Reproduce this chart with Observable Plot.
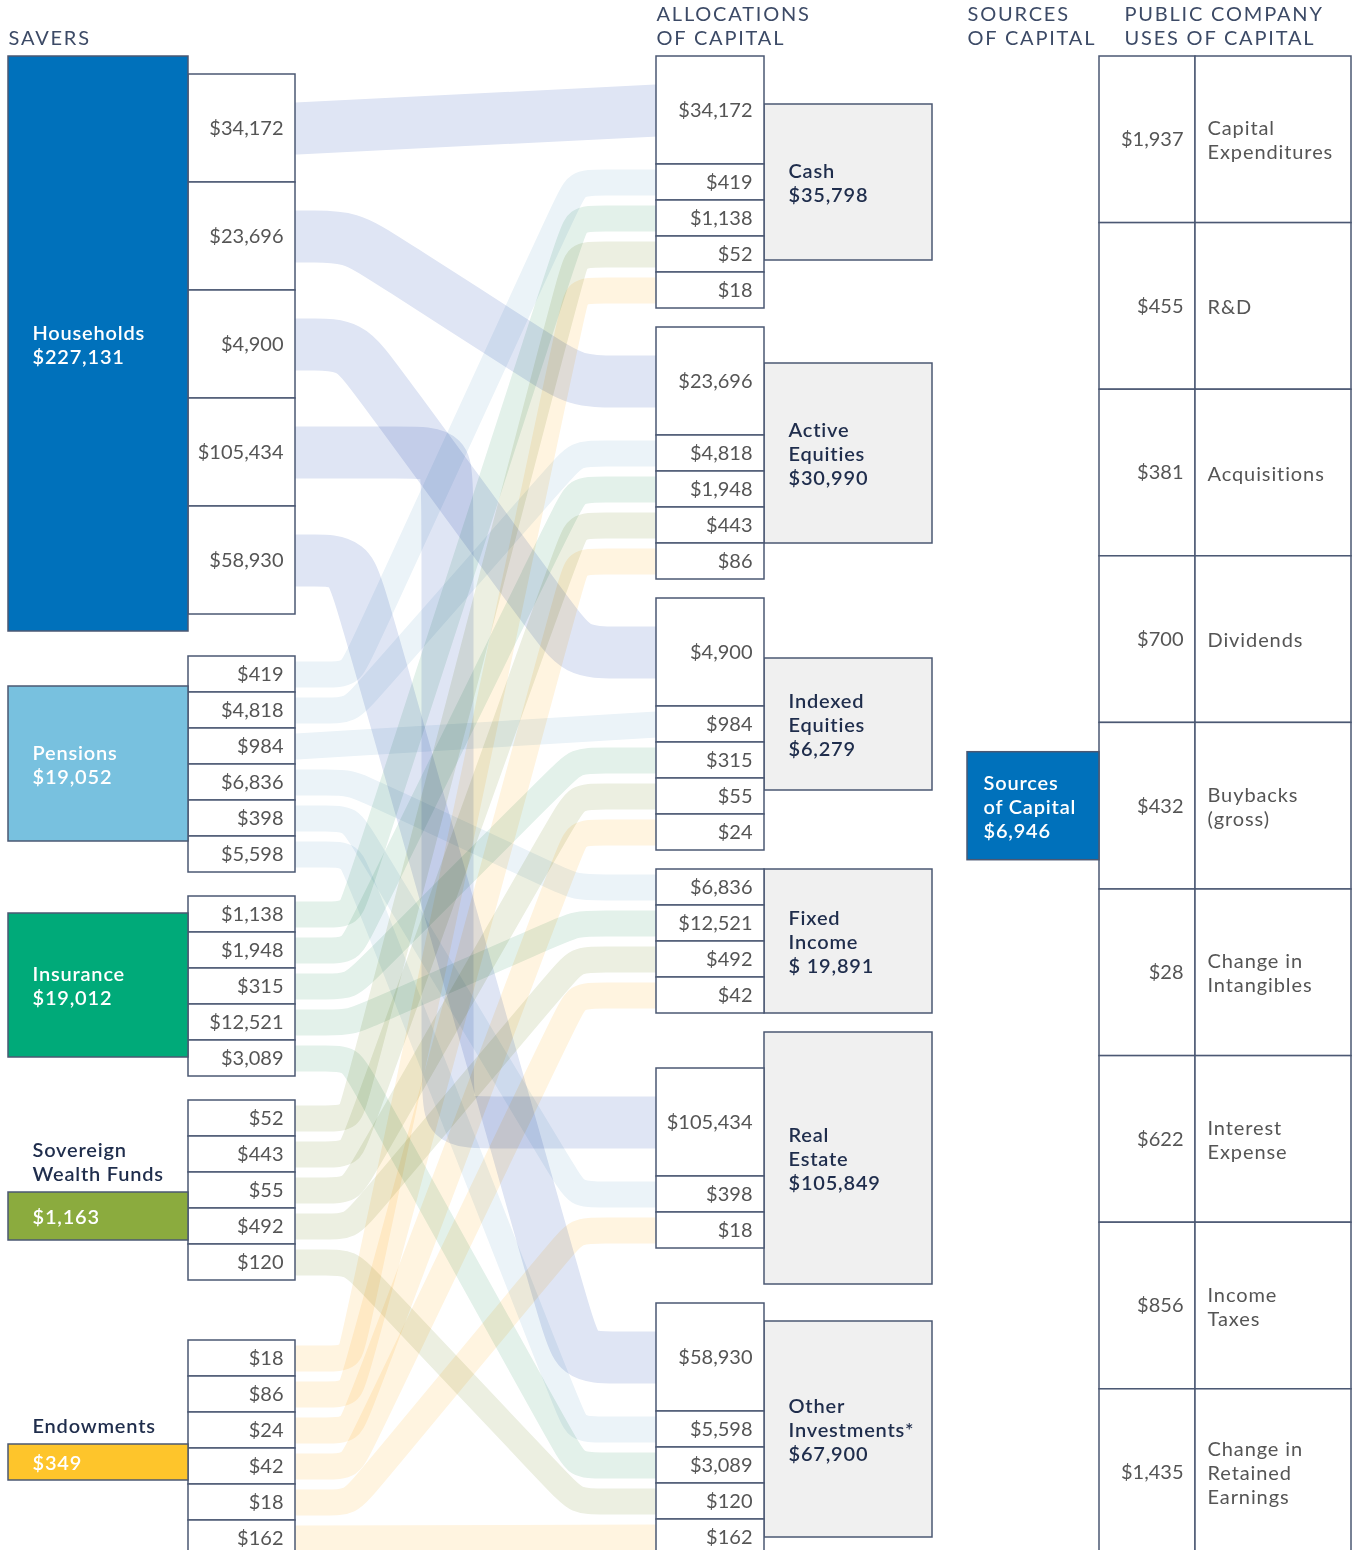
<!DOCTYPE html>
<html>
<head>
<meta charset="utf-8">
<script src="https://cdn.jsdelivr.net/npm/d3@7"></script>
<script src="https://cdn.jsdelivr.net/npm/@observablehq/plot@0.6"></script>
<style>
  html, body { margin: 0; padding: 0; background: #fff; }
  #chart svg { display: block; }
</style>
</head>
<body>
<div id="chart"></div>
<script>
// ---------------- DATA ----------------
const savers = ["Households", "Pensions", "Insurance", "Sovereign\nWealth Funds", "Endowments"];
const saverTotals = [227131, 19052, 19012, 1163, 349];

const allocations = ["Cash", "Active\nEquities", "Indexed\nEquities", "Fixed\nIncome", "Real\nEstate", "Other\nInvestments*"];
const allocationTotalLabels = ["$35,798", "$30,990", "$6,279", "$ 19,891", "$105,849", "$67,900"];

// flows from each saver to each allocation (columns follow `allocations`; null = no flow)
const householdsFlows = [34172, 23696, 4900, null, 105434, 58930];
const pensionsFlows   = [419, 4818, 984, 6836, 398, 5598];
const insuranceFlows  = [1138, 1948, 315, 12521, null, 3089];
const swfFlows        = [52, 443, 55, 492, null, 120];
const endowmentFlows  = [18, 86, 24, 42, 18, 162];

const sourcesLabel = "Sources\nof Capital";
const sourcesTotal = 6946;

const uses = ["Capital\nExpenditures", "R&D", "Acquisitions", "Dividends", "Buybacks\n(gross)",
              "Change in\nIntangibles", "Interest\nExpense", "Income\nTaxes", "Change in\nRetained\nEarnings"];
const useValues = [1937, 455, 381, 700, 432, 28, 622, 856, 1435];

const headers = ["SAVERS", "ALLOCATIONS\nOF CAPITAL", "SOURCES\nOF CAPITAL", "PUBLIC COMPANY\nUSES OF CAPITAL"];

// ---------------- LAYOUT / STYLE ----------------
const L = {
  W: 1353, H: 1550,
  saverX: [8, 188], valX: [188, 295], flowX: [296, 656],
  allocValX: [656, 764], catX: [764, 932],
  srcX: [967, 1099], useValX: [1099, 1195], useLabX: [1195, 1351],
  bigRow: 108, smallRow: 36, bigBand: 52, smallBand: 26,
  bigRadius: 40, smallRadius: 24,
  saverRowTop: [74, 656, 896, 1100, 1340],
  saverBox: [[56, 631], [686, 841], [913, 1057], [1192, 1240], [1444, 1480]],
  allocRowTop: [56, 327, 598, 869, 1068, 1303],
  catBox: [[104, 260], [363, 543], [658, 790], [869, 1013], [1032, 1284], [1321, 1537]],
  useTop: 56, useRowH: 166.6,
  bendL: 350, bendR: 576, laneX: 447, straightTol: 40,
  headerX: [8, 656, 967, 1124], headerBaseline: 44,
  pad: 12, labelX: 32, catLabelX: 788,
  saverColors: ["#0071bb", "#78c1df", "#00aa79", "#8bab3e", "#fec52b"],
  flowColors: ["#dfe5f4", "#ebf3f8", "#e3f1ea", "#ecefe1", "#fff4e0"],
  border: "#4b5873", catFill: "#f0f0f0",
  valueColor: "#555555", navy: "#1f2d4c", headerColor: "#3c4a66"
};

const fmt = v => "$" + d3.format(",")(v);
const flowMatrix = [householdsFlows, pensionsFlows, insuranceFlows, swfFlows, endowmentFlows];
const rowH = si => si === 0 ? L.bigRow : L.smallRow;

// saver value rows
const saverRows = [];
savers.forEach((s, si) => {
  let top = L.saverRowTop[si];
  flowMatrix[si].forEach((v, ai) => {
    if (v == null) return;
    saverRows.push({si, ai, v, y1: top, y2: top + rowH(si)});
    top += rowH(si);
  });
});
// allocation value rows
const allocRows = [];
allocations.forEach((a, ai) => {
  let top = L.allocRowTop[ai];
  savers.forEach((s, si) => {
    const v = flowMatrix[si][ai];
    if (v == null) return;
    allocRows.push({si, ai, v, y1: top, y2: top + rowH(si)});
    top += rowH(si);
  });
});

// flow bands
const maxFlow = d3.max(saverRows, d => d.v);
const flowPts = [];
saverRows.forEach((r, i) => {
  const t = allocRows.find(d => d.si === r.si && d.ai === r.ai);
  const y0 = (r.y1 + r.y2) / 2, y1 = (t.y1 + t.y2) / 2;
  const x0 = L.flowX[0], x3 = L.flowX[1];
  let pts;
  if (Math.abs(y1 - y0) < L.straightTol) {
    pts = [[x0, y0], [x3, y1]];
  } else {
    const xa = r.v === maxFlow ? L.laneX : L.bendL;
    const xb = r.v === maxFlow ? L.laneX : L.bendR;
    const rad = r.si === 0 ? L.bigRadius : L.smallRadius;
    const dx = xb - xa, dy = y1 - y0, len = Math.hypot(dx, dy);
    const ux = dx / len, uy = dy / len;
    pts = [[x0, y0], [xa - rad, y0], [xa, y0], [xa + rad * ux, y0 + rad * uy],
           [xb - rad * ux, y1 - rad * uy], [xb, y1], [xb + rad, y1], [x3, y1]];
  }
  pts.forEach(([x, y]) => flowPts.push({id: i, si: r.si, x, y, color: L.flowColors[r.si]}));
});

// boxes
const saverBoxes = savers.map((s, i) => ({x1: L.saverX[0], x2: L.saverX[1], y1: L.saverBox[i][0], y2: L.saverBox[i][1], fill: L.saverColors[i]}));
const valueBoxes = [
  ...saverRows.map(r => ({x1: L.valX[0], x2: L.valX[1], y1: r.y1, y2: r.y2, fill: "#ffffff"})),
  ...allocRows.map(r => ({x1: L.allocValX[0], x2: L.allocValX[1], y1: r.y1, y2: r.y2, fill: "#ffffff"}))
];
const catBoxes = allocations.map((a, i) => ({x1: L.catX[0], x2: L.catX[1], y1: L.catBox[i][0], y2: L.catBox[i][1], fill: L.catFill}));
const useCells = uses.flatMap((u, i) => {
  const y1 = L.useTop + i * L.useRowH, y2 = y1 + L.useRowH;
  return [{x1: L.useValX[0], x2: L.useValX[1], y1, y2, fill: "#ffffff"},
          {x1: L.useLabX[0], x2: L.useLabX[1], y1, y2, fill: "#ffffff"}];
});
const midUse = L.useTop + (Math.floor(uses.length / 2) + 0.5) * L.useRowH;
const sourceBox = [{x1: L.srcX[0], x2: L.srcX[1], y1: midUse - L.bigRow / 2, y2: midUse + L.bigRow / 2, fill: L.saverColors[0]}];

// texts
const valueTexts = [
  ...saverRows.map(r => ({x: L.valX[1] - L.pad, y: (r.y1 + r.y2) / 2, text: fmt(r.v)})),
  ...allocRows.map(r => ({x: L.allocValX[1] - L.pad, y: (r.y1 + r.y2) / 2, text: fmt(r.v)})),
  ...useValues.map((v, i) => ({x: L.useLabX[0] - L.pad, y: L.useTop + (i + 0.5) * L.useRowH, text: fmt(v)}))
];
const useLabelTexts = uses.map((u, i) => ({x: L.useLabX[0] + L.pad, y: L.useTop + (i + 0.5) * L.useRowH, text: u}));
const whiteLabels = [];
const navyAbove = [];
savers.forEach((s, i) => {
  const [b1, b2] = L.saverBox[i];
  if (b2 - b1 > 60) {
    whiteLabels.push({x: L.labelX, y: (b1 + b2) / 2, text: s + "\n" + fmt(saverTotals[i])});
  } else {
    whiteLabels.push({x: L.labelX, y: (b1 + b2) / 2, text: fmt(saverTotals[i])});
    navyAbove.push({x: L.labelX, y: b1 - 12, text: s});
  }
});
whiteLabels.push({x: L.srcX[0] + 16, y: midUse, text: sourcesLabel + "\n" + fmt(sourcesTotal)});
const catTexts = allocations.map((a, i) => ({x: L.catLabelX, y: (L.catBox[i][0] + L.catBox[i][1]) / 2, text: a + "\n" + allocationTotalLabels[i]}));
const headerTexts = headers.map((h, i) => ({x: L.headerX[i], y: L.headerBaseline, text: h}));

const boxStyle = {x1: "x1", x2: "x2", y1: "y1", y2: "y2", fill: d => d.fill, stroke: L.border, strokeWidth: 1.5};

const marks = {
  flowsSmall: Plot.line(flowPts.filter(d => d.si !== 0), {x: "x", y: "y", z: "id", stroke: d => d.color, strokeWidth: L.smallBand, curve: "basis"}),
  flowsBig: Plot.line(flowPts.filter(d => d.si === 0), {x: "x", y: "y", z: "id", stroke: d => d.color, strokeWidth: L.bigBand, curve: "basis"}),
  cats: Plot.rect(catBoxes, boxStyle),
  vals: Plot.rect(valueBoxes, boxStyle),
  savers: Plot.rect(saverBoxes, boxStyle),
  uses: Plot.rect(useCells, boxStyle),
  source: Plot.rect(sourceBox, boxStyle),
  valueText: Plot.text(valueTexts, {x: "x", y: "y", text: "text", textAnchor: "end", lineAnchor: "middle", fill: L.valueColor, fontSize: 20}),
  useText: Plot.text(useLabelTexts, {x: "x", y: "y", text: "text", textAnchor: "start", lineAnchor: "middle", lineHeight: 1.2, fill: L.valueColor, fontSize: 20}),
  whiteText: Plot.text(whiteLabels, {x: "x", y: "y", text: "text", textAnchor: "start", lineAnchor: "middle", lineHeight: 1.2, fill: "#ffffff", fontSize: 20, fontWeight: 600}),
  navyText: Plot.text(navyAbove, {x: "x", y: "y", text: "text", textAnchor: "start", lineAnchor: "bottom", lineHeight: 1.2, fill: L.navy, fontSize: 20, fontWeight: 600}),
  catText: Plot.text(catTexts, {x: "x", y: "y", text: "text", textAnchor: "start", lineAnchor: "middle", lineHeight: 1.2, fill: L.navy, fontSize: 20, fontWeight: 600}),
  headerText: Plot.text(headerTexts, {x: "x", y: "y", text: "text", textAnchor: "start", lineAnchor: "bottom", lineHeight: 1.2, fill: L.headerColor, fontSize: 20})
};
const markKeys = Object.keys(marks);

const chart = Plot.plot({
  width: L.W, height: L.H, margin: 0,
  x: {domain: [0, L.W], range: [0, L.W], axis: null},
  y: {domain: [0, L.H], range: [0, L.H], axis: null},
  color: {type: "identity"},
  style: {fontFamily: "Lato, 'Noto Sans', sans-serif", fontSize: "20px", background: "#ffffff"},
  marks: markKeys.map(k => marks[k])
});
document.getElementById("chart").appendChild(chart);

// per-mark finishing styles (blend mode for the bands, letter spacing for text)
const groups = Array.from(chart.querySelectorAll(":scope > g"));
const groupOf = k => groups[markKeys.indexOf(k)];
if (groups.length === markKeys.length) {
  ["flowsSmall", "flowsBig"].forEach(k => groupOf(k).querySelectorAll("path").forEach(p => p.style.mixBlendMode = "multiply"));
  groupOf("headerText").style.letterSpacing = "1.8px";
  groupOf("useText").style.letterSpacing = "0.9px";
  ["whiteText", "navyText", "catText"].forEach(k => groupOf(k).style.letterSpacing = "0.8px");
}
</script>
</body>
</html>
